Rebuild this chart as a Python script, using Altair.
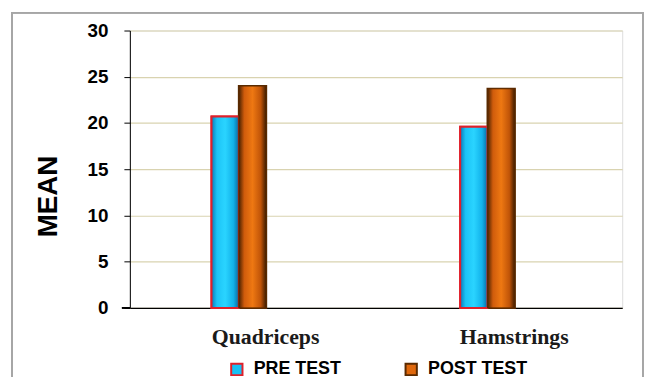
import altair as alt
import pandas as pd

categories = ["Quadriceps", "Hamstrings"]
series = ["PRE TEST", "POST TEST"]
pre_values = [20.7, 19.6]
post_values = [24.0, 23.7]

rows = []
for c, p, q in zip(categories, pre_values, post_values):
    rows.append({"muscle": c, "test": "PRE TEST", "mean": p})
    rows.append({"muscle": c, "test": "POST TEST", "mean": q})
df = pd.DataFrame(rows)

W, H = 497, 280

x_enc = alt.X("muscle:N", sort=categories, title=None,
              scale=alt.Scale(paddingInner=0.78, paddingOuter=0.38, align=0.432),
              axis=alt.Axis(labelAngle=0, labelFont="Liberation Serif", labelFontWeight="bold",
                            labelFontSize=22, labelColor="#1a1a1a", labelPadding=19, labelOffset=27,
                            ticks=False, domainColor="#000000", domainWidth=1.2))
y_enc = alt.Y("mean:Q", title="MEAN",
              scale=alt.Scale(domain=[0, 30]),
              axis=alt.Axis(values=[0, 5, 10, 15, 20, 25, 30], labelFont="Liberation Sans",
                            labelFontWeight="bold", labelFontSize=19, labelColor="#000000",
                            labelPadding=16, tickSize=6, tickColor="#000000",
                            domainColor="#000000", gridColor="#d9d3b0", gridWidth=1.2,
                            titleFont="Liberation Sans", titleFontWeight="bold", titleFontSize=28,
                            titleColor="#000000", titleX=-68, titleY=167))
xoff = alt.XOffset("test:N", sort=series, scale=alt.Scale(paddingInner=0, paddingOuter=0))

base = alt.Chart(df).mark_bar(strokeWidth=2).encode(
    x=x_enc, y=y_enc, xOffset=xoff,
    color=alt.Color("test:N", sort=series, title=None,
                    scale=alt.Scale(domain=series, range=["#18c0f4", "#e0680c"]),
                    legend=alt.Legend(orient="none", legendX=99, legendY=333, direction="horizontal",
                                      symbolType="square", symbolSize=130, symbolStrokeWidth=2,
                                      labelFont="Liberation Sans", labelFontWeight="bold",
                                      labelFontSize=18, labelColor="#000000", labelOffset=8,
                                      columnPadding=60)),
    stroke=alt.Stroke("test:N", sort=series, title=None,
                      scale=alt.Scale(domain=series, range=["#e0202a", "#5a2a00"])),
)

blue_grad = alt.Gradient(gradient="linear", x1=0, x2=1, y1=0, y2=0, stops=[
    alt.GradientStop(color="#0a78b8", offset=0),
    alt.GradientStop(color="#1cc4f6", offset=0.2),
    alt.GradientStop(color="#2ad4ff", offset=0.5),
    alt.GradientStop(color="#12b2ea", offset=0.8),
    alt.GradientStop(color="#086aa0", offset=1)])
orange_grad = alt.Gradient(gradient="linear", x1=0, x2=1, y1=0, y2=0, stops=[
    alt.GradientStop(color="#4a2200", offset=0),
    alt.GradientStop(color="#d05c0c", offset=0.2),
    alt.GradientStop(color="#ee7812", offset=0.5),
    alt.GradientStop(color="#c05408", offset=0.8),
    alt.GradientStop(color="#3e1c00", offset=1)])

pre_layer = alt.Chart(df).transform_filter(alt.datum.test == "PRE TEST").mark_bar(
    fill=blue_grad, stroke="#e0202a", strokeWidth=2).encode(x=x_enc, y=y_enc, xOffset=xoff)
post_layer = alt.Chart(df).transform_filter(alt.datum.test == "POST TEST").mark_bar(
    fill=orange_grad, stroke="#5a2a00", strokeWidth=1).encode(x=x_enc, y=y_enc, xOffset=xoff)

border = alt.Chart(df).mark_rect(fill=None, stroke="#a6a6a6", strokeWidth=1.5).encode(
    x=alt.value(-119), x2=alt.value(518), y=alt.value(-18), y2=alt.value(400))

stub = alt.Chart(df).mark_rule(color="#000000", strokeWidth=1.2).encode(
    x=alt.value(-8), x2=alt.value(0), y=alt.value(H))

chart = alt.layer(border, stub, base, pre_layer, post_layer).properties(
    width=W, height=H,
    autosize=alt.AutoSizeParams(type="none"),
    padding={"left": 123, "top": 21, "right": 22, "bottom": 68},
).configure_view(stroke=None).configure(background="#ffffff")

chart.save("out.html", embed_options={"renderer": "svg", "actions": False})
